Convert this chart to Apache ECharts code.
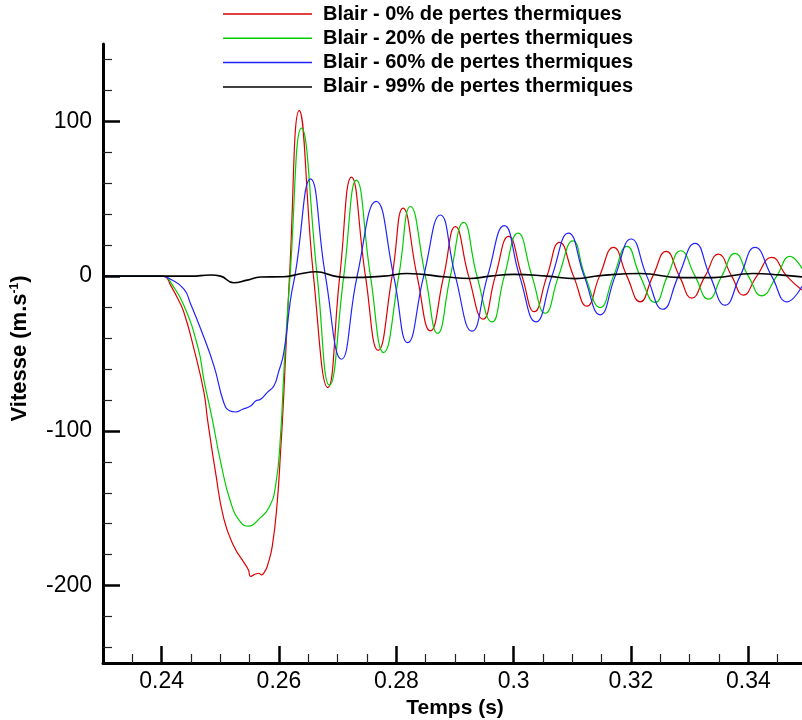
<!DOCTYPE html>
<html>
<head>
<meta charset="utf-8">
<script src="https://cdn.jsdelivr.net/npm/echarts@6/dist/echarts.min.js"></script>
<style>
html,body{margin:0;padding:0;background:#fff;}
#chart{width:802px;height:720px;}
</style>
</head>
<body>
<div id="chart"></div>
<script>
// ---- Data ----
const seriesNames = [
  'Blair - 0% de pertes thermiques',
  'Blair - 20% de pertes thermiques',
  'Blair - 60% de pertes thermiques',
  'Blair - 99% de pertes thermiques'
];

// Blair 0% (time s, velocity m/s)
const red_t = [0.2300,0.2400,0.24068,0.24153,0.24267,0.24380,0.24550,0.24720,0.24783,0.24919,0.25061,0.25231,0.25401,0.25481,0.25515,0.25601,0.25652,0.25703,0.25771,0.25800,0.25885,0.25970,0.26026,0.26077,0.26179,0.26345,0.26588,0.26832,0.27036,0.27235,0.27474,0.27690,0.27928,0.28115,0.28354,0.28580,0.28807,0.29006,0.29232,0.29478,0.29687,0.29914,0.30142,0.30351,0.30567,0.30782,0.31020,0.31248,0.31463,0.31701,0.31930,0.32156,0.32372,0.32599,0.32825,0.33036,0.33263,0.33489,0.33717,0.33915,0.34143,0.34398,0.34654,0.34914];
const red_v = [0,0,-0.5,-6,-14,-23.5,-47,-75,-93,-127,-157,-174.6,-185,-190,-194,-192.5,-192,-193,-190,-187.5,-174.6,-146,-114,-80,0,107,0,-72,0,64,0,-48,0,44,0,-35.4,0,32,0,-27.8,0,25.7,0,-23,0,21.8,0,-19.4,0,18.6,0,-16.6,0,16,0,-14.2,0,14.2,0,-12.3,0,12.1,0,-9];

// Blair 20%
const green_t = [0.2300,0.2400,0.24068,0.24153,0.24380,0.24625,0.24720,0.24863,0.25005,0.25175,0.25345,0.25486,0.25657,0.25827,0.25941,0.26026,0.26086,0.26188,0.26384,0.26651,0.26861,0.27104,0.27320,0.27559,0.27785,0.28041,0.28240,0.28495,0.28705,0.28921,0.29147,0.29375,0.29631,0.29840,0.30074,0.30312,0.30538,0.30765,0.31010,0.31219,0.31475,0.31701,0.31930,0.32156,0.32411,0.32621,0.32849,0.33092,0.33319,0.33547,0.33773,0.34000,0.34228,0.34483,0.34710,0.34914];
const green_v = [0,0,-0.3,-4,-19,-47,-67,-92.6,-120,-146,-159,-161.6,-157,-149.7,-135.7,-103,-60,0,95.6,0,-70.5,0,62,0,-49.4,0,45,0,-37,0,34.7,0,-29.6,0,27.8,0,-24,0,22.8,0,-20.3,0,19.2,0,-17,0,16.4,0,-14.9,0,14.7,0,-12.7,0,12.7,5];

// Blair 60%
const blue_t = [0.2300,0.2400,0.24153,0.24380,0.24494,0.24664,0.24891,0.25061,0.25158,0.25260,0.25379,0.25515,0.25601,0.25686,0.25805,0.25912,0.25992,0.26082,0.26197,0.26282,0.26537,0.26792,0.27065,0.27332,0.27656,0.27955,0.28194,0.28466,0.28751,0.29006,0.29290,0.29556,0.29840,0.30101,0.30380,0.30652,0.30935,0.31202,0.31475,0.31730,0.32003,0.32270,0.32542,0.32808,0.33092,0.33348,0.33603,0.33859,0.34114,0.34398,0.34664,0.34914];
const blue_v = [0,0,-2,-8.4,-18,-34,-58,-82,-87,-87.8,-86,-84,-80.7,-79.6,-75,-71,-62,-49.4,-15,2.6,62.8,0,-53.7,0,48.3,0,-43,0,39.5,0,-35.6,0,32.6,0,-29.6,0,27.8,0,-25,0,24,0,-21.4,0,21.2,0,-18.8,0,18.6,0,-16.6,-6.5];

// Blair 99%
const black_t = [0.2300,0.24494,0.24834,0.25005,0.25226,0.25459,0.25686,0.26077,0.26367,0.26622,0.26992,0.27218,0.27780,0.28184,0.28865,0.29261,0.29602,0.29999,0.30567,0.31049,0.31475,0.32156,0.32837,0.33399,0.34080,0.34540,0.34914];
const black_v = [0,0,0.7,0,-4.3,-2.6,-0.6,-0.4,1.5,2.8,-0.3,-0.9,0,1.7,-0.6,-1.5,0,1.1,0,-1.6,0.3,1.7,-1,-1,1.7,0.8,-0.5];

// Tick values
const xMajorTicks = [0.24,0.26,0.28,0.30,0.32,0.34];
const xMinorTicks = [0.235,0.245,0.25,0.255,0.265,0.27,0.275,0.285,0.29,0.295,0.305,0.31,0.315,0.325,0.33,0.335,0.345];
const yMajorTicks = [-200,-100,0,100];
const yMinorTicks = [-240,-220,-180,-160,-140,-120,-80,-60,-40,-20,20,40,60,80,120,140];

const colors = ['#dd0000','#00cc00','#2222ff','#000000'];

function pairs(t, v){ return t.map((x,i)=>[x, v[i]]); }
const allData = [pairs(red_t,red_v), pairs(green_t,green_v), pairs(blue_t,blue_v), pairs(black_t,black_v)];

const FONT = 'Liberation Sans, Arial, Helvetica, sans-serif';

const chart = echarts.init(document.getElementById('chart'), null, {renderer:'canvas'});
const option = {
  animation: false,
  backgroundColor: '#ffffff',
  textStyle: { fontFamily: FONT },
  grid: { left: 103, right: -5, top: 44, bottom: 57, containLabel: false, outerBoundsMode: 'none' },
  legend: {
    orient: 'vertical',
    left: 218, top: -1,
    itemWidth: 89, itemHeight: 1.5,
    itemGap: 4.3,
    icon: 'rect',
    data: seriesNames,
    textStyle: { fontFamily: FONT, fontSize: 20, fontWeight: 'bold', color: '#000', lineHeight: 20, padding: [0,0,0,6] }
  },
  xAxis: [{
    type: 'value', min: 0.23, max: 0.35,
    name: 'Temps (s)', nameLocation: 'middle', nameGap: 21,
    nameTextStyle: { fontFamily: FONT, fontSize: 21, fontWeight: 'bold', color: '#000' },
    axisLine: { show: true, onZero: false, lineStyle: { color: '#000', width: 3 } },
    axisTick: { show: true, inside: true, length: 17, lineStyle: { color: '#000', width: 2.5 }, customValues: xMajorTicks },
    axisLabel: { show: true, margin: 7, fontFamily: FONT, fontSize: 23, color: '#000', customValues: xMajorTicks },
    splitLine: { show: false }
  },{
    type: 'value', min: 0.23, max: 0.35, position: 'bottom', gridIndex: 0,
    axisLine: { show: false, onZero: false },
    axisTick: { show: true, inside: true, length: 9, lineStyle: { color: '#222', width: 1.2 }, customValues: xMinorTicks },
    axisLabel: { show: false },
    splitLine: { show: false }
  }],
  yAxis: [{
    type: 'value', min: -250, max: 150,
    name: 'Vitesse (m.s{sup|-1})', nameLocation: 'middle', nameGap: 72,
    nameTextStyle: { fontFamily: FONT, fontSize: 22, fontWeight: 'bold', color: '#000', padding: [0,0,0,10],
      rich: { sup: { fontFamily: FONT, fontSize: 12, fontWeight: 'bold', color: '#000', verticalAlign: 'top', padding: [0,0,8,0] } } },
    axisLine: { show: true, onZero: false, lineStyle: { color: '#000', width: 3 } },
    axisTick: { show: true, inside: true, length: 17, lineStyle: { color: '#000', width: 2.5 }, customValues: yMajorTicks },
    axisLabel: { show: true, margin: 11, fontFamily: FONT, fontSize: 23, color: '#000', customValues: yMajorTicks },
    splitLine: { show: false }
  },{
    type: 'value', min: -250, max: 150, position: 'left', gridIndex: 0,
    axisLine: { show: false, onZero: false },
    axisTick: { show: true, inside: true, length: 9, lineStyle: { color: '#222', width: 1.2 }, customValues: yMinorTicks },
    axisLabel: { show: false },
    splitLine: { show: false }
  }],
  series: seriesNames.map((n, i) => ({
    name: n, type: 'line', xAxisIndex: 0, yAxisIndex: 0,
    data: allData[i], showSymbol: false, smooth: 0.5,
    color: colors[i],
    lineStyle: { color: colors[i], width: i === 3 ? 1.6 : 1.2 },
    clip: true
  }))
};
chart.setOption(option);
</script>
</body>
</html>
